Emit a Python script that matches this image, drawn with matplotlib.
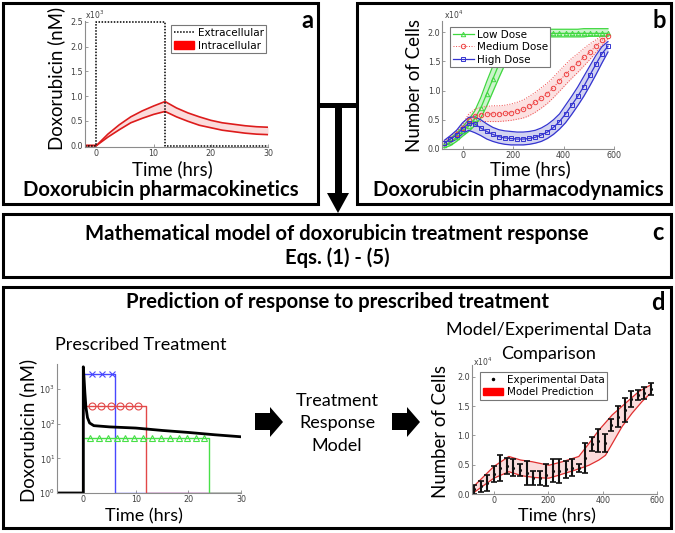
import numpy as np
import matplotlib
matplotlib.use('Agg')
import matplotlib.pyplot as plt
from matplotlib.patches import Rectangle, Polygon, Patch
from matplotlib.lines import Line2D
from matplotlib.ticker import NullLocator

W, H = 675, 533
BIG = 'Lato'

# panel a - pharmacokinetics (x10^3 nM)
pk_time = [-2, 0, 2, 4, 6, 8, 10, 12, 14, 16, 18, 20, 22, 24, 26, 28, 30]
intra_hi = [0, 0, 0.23, 0.42, 0.58, 0.70, 0.80, 0.89, 0.76, 0.66, 0.58, 0.51, 0.46, 0.43, 0.40, 0.38, 0.37]
intra_lo = [0, 0, 0.17, 0.32, 0.46, 0.55, 0.63, 0.69, 0.58, 0.49, 0.41, 0.36, 0.31, 0.28, 0.25, 0.23, 0.22]
extra_time = [-2, 0, 0, 12, 12, 30]
extra_conc = [0, 0, 2.5, 2.5, 0, 0]

# panel b - pharmacodynamics (x10^4 cells)
pd_time = [-72, -48, -24, 0, 24, 48, 72, 96, 120, 144, 168, 192, 216, 240,
           264, 288, 312, 336, 360, 384, 408, 432, 456, 480, 504, 528, 552, 576]
low_mid = [0.06, 0.12, 0.20, 0.30, 0.40, 0.52, 0.70, 0.95, 1.20, 1.45, 1.65, 1.80, 1.90, 1.95,
           1.97, 1.98, 1.98, 1.98, 1.98, 1.98, 1.98, 1.98, 1.98, 1.98, 1.98, 1.98, 1.98, 1.98]
low_lo = [0.02, 0.06, 0.13, 0.22, 0.30, 0.40, 0.53, 0.74, 0.98, 1.22, 1.45, 1.64, 1.79, 1.87,
          1.91, 1.92, 1.92, 1.92, 1.92, 1.92, 1.92, 1.92, 1.92, 1.92, 1.93, 1.93, 1.93, 1.93]
low_hi = [0.10, 0.18, 0.27, 0.38, 0.50, 0.65, 0.88, 1.16, 1.42, 1.66, 1.83, 1.94, 2.00, 2.03,
          2.04, 2.05, 2.05, 2.05, 2.05, 2.05, 2.05, 2.05, 2.05, 2.06, 2.06, 2.06, 2.06, 2.06]
med_mid = [0.10, 0.17, 0.25, 0.36, 0.50, 0.57, 0.59, 0.60, 0.60, 0.60, 0.61, 0.62, 0.65, 0.68,
           0.73, 0.80, 0.87, 0.95, 1.05, 1.17, 1.28, 1.38, 1.47, 1.57, 1.66, 1.76, 1.86, 1.94]
med_lo = [0.07, 0.13, 0.20, 0.30, 0.42, 0.47, 0.47, 0.47, 0.47, 0.47, 0.48, 0.49, 0.51, 0.53,
          0.57, 0.63, 0.70, 0.78, 0.88, 0.99, 1.10, 1.21, 1.31, 1.42, 1.53, 1.65, 1.77, 1.89]
med_hi = [0.13, 0.21, 0.30, 0.42, 0.60, 0.68, 0.71, 0.73, 0.74, 0.74, 0.75, 0.77, 0.80, 0.84,
          0.90, 0.97, 1.05, 1.13, 1.23, 1.34, 1.45, 1.55, 1.63, 1.72, 1.80, 1.87, 1.93, 1.98]
high_mid = [0.10, 0.17, 0.24, 0.35, 0.44, 0.43, 0.36, 0.30, 0.25, 0.21, 0.19, 0.18, 0.17, 0.17,
            0.18, 0.20, 0.24, 0.29, 0.37, 0.47, 0.60, 0.75, 0.90, 1.07, 1.26, 1.45, 1.63, 1.76]
high_lo = [0.05, 0.11, 0.17, 0.26, 0.32, 0.28, 0.23, 0.17, 0.13, 0.10, 0.08, 0.07, 0.07, 0.07,
           0.08, 0.10, 0.13, 0.18, 0.25, 0.34, 0.45, 0.59, 0.74, 0.90, 1.08, 1.27, 1.47, 1.66]
high_hi = [0.15, 0.23, 0.32, 0.45, 0.54, 0.55, 0.50, 0.43, 0.37, 0.33, 0.31, 0.30, 0.29, 0.29,
           0.30, 0.32, 0.36, 0.42, 0.50, 0.60, 0.75, 0.90, 1.06, 1.24, 1.42, 1.60, 1.75, 1.84]

# panel d left - prescribed treatment (nM)
high_t = [-5, 0, 0, 6, 6, 30]
high_c = [1, 1, 2700, 2700, 1, 1]
med_t = [-5, 0, 0, 12, 12, 30]
med_c = [1, 1, 325, 325, 1, 1]
low_t = [-5, 0, 0, 24, 24, 30]
low_c = [1, 1, 40, 40, 1, 1]
high_mk = [1.6, 3.5, 5.4]
med_mk = [1.6, 3.4, 5.2, 7.0, 8.7, 10.5]
low_mk = [1.3, 3.0, 4.7, 6.4, 8.0, 9.7, 11.4, 13.1, 14.8, 16.5, 18.2, 19.8, 21.5, 23.0]
pres_t = [-5, 0, 0, 0.15, 0.3, 0.5, 0.8, 1.2, 2, 5, 10, 15, 20, 25, 30]
pres_c = [1, 1, 4400, 2000, 800, 300, 150, 105, 88, 81, 75, 64, 56, 48, 42]

# panel d right - model vs experiment (x10^4 cells)
exp_mean = [0.08, 0.13, 0.19, 0.34, 0.44, 0.48, 0.45, 0.41, 0.36, 0.28, 0.28, 0.33, 0.40, 0.39,
            0.42, 0.45, 0.44, 0.61, 0.86, 0.91, 0.87, 1.18, 1.32, 1.43, 1.62, 1.69, 1.72, 1.79]
exp_err = [0.08, 0.10, 0.14, 0.14, 0.22, 0.14, 0.14, 0.10, 0.20, 0.12, 0.12, 0.19, 0.20, 0.20,
           0.14, 0.14, 0.07, 0.26, 0.12, 0.20, 0.16, 0.10, 0.18, 0.20, 0.14, 0.09, 0.10, 0.10]
mdl_hi_t = [-72, 0, 55, 98, 141, 202, 251, 312, 349, 386, 435, 484, 533, 576]
mdl_hi = [0.14, 0.47, 0.64, 0.58, 0.55, 0.49, 0.55, 0.64, 0.86, 1.09, 1.35, 1.55, 1.75, 1.86]
mdl_lo_t = [-72, 0, 55, 104, 153, 202, 238, 300, 349, 386, 410, 435, 471, 508, 545, 576]
mdl_lo = [0.03, 0.27, 0.38, 0.31, 0.28, 0.27, 0.32, 0.41, 0.49, 0.58, 0.66, 0.86, 1.15, 1.38, 1.58, 1.72]

GREEN = '#3fd83f'
RED = '#ee4444'
BLUE = '#3434d0'
AXC = '#8c8c8c'

fig = plt.figure(figsize=(6.75, 5.33), dpi=100)

# overlay in pixel coordinates for boxes, arrows, titles
ov = fig.add_axes([0, 0, 1, 1])
ov.set_xlim(0, W)
ov.set_ylim(H, 0)
ov.axis('off')

for (x0, y0, x1, y1) in [(3, 3, 318, 204), (357, 3, 671, 204), (3, 214, 671, 277), (3, 287, 671, 528)]:
    ov.add_patch(Rectangle((x0, y0), x1 - x0, y1 - y0, fill=False, ec='k', lw=2.2))

ov.add_patch(Rectangle((318, 103), 39, 5, fc='k', ec='none'))
ov.add_patch(Rectangle((335, 103), 7, 92, fc='k', ec='none'))
ov.add_patch(Polygon([(327, 193), (349, 193), (338, 213)], fc='k', ec='none'))
for x0 in [255, 392]:
    ov.add_patch(Polygon([(x0, 413), (x0 + 15, 413), (x0 + 15, 407), (x0 + 28, 422),
                          (x0 + 15, 437), (x0 + 15, 430), (x0, 430)], fc='k', ec='none'))

def txt(x, y, s, size, bold=False, **kw):
    kw.setdefault('ha', 'center')
    kw.setdefault('va', 'baseline')
    ov.text(x, y, s, fontsize=size, family=BIG, fontweight='bold' if bold else 'normal', **kw)

TB = 14.6
txt(161, 196.5, 'Doxorubicin pharmacokinetics', TB, True)
txt(518, 196.5, 'Doxorubicin pharmacodynamics', TB, True)
txt(337, 240, 'Mathematical model of doxorubicin treatment response', TB, True)
txt(337, 264, 'Eqs. (1) - (5)', TB, True)
txt(337, 308, 'Prediction of response to prescribed treatment', TB, True)
txt(307, 28.5, 'a', 17, True)
txt(659, 28.5, 'b', 17, True)
txt(658, 240, 'c', 17, True)
txt(658, 310, 'd', 17, True)

TR = 13
txt(141, 350, 'Prescribed Treatment', TR)
txt(549, 335, 'Model/Experimental Data', TR)
txt(549, 359, 'Comparison', TR)
txt(337, 406, 'Treatment', TR)
txt(337, 428, 'Response', TR)
txt(337, 451, 'Model', TR)

TA = 13.4
txt(172, 175, 'Time (hrs)', TA)
txt(530, 175, 'Time (hrs)', TA)
txt(144, 521, 'Time (hrs)', 13)
txt(557, 521, 'Time (hrs)', 13)
txt(56, 78, 'Doxorubicin (nM)', TA, rotation=90, va='center')
txt(415, 85, 'Number of Cells', TA, rotation=90, va='center')
txt(28, 430, 'Doxorubicin (nM)', TA, rotation=90, va='center')
txt(440, 432, 'Number of Cells', TA, rotation=90, va='center')

ov.text(85, 15, r'x10$^3$', fontsize=5.5, color='#404040', va='center')
ov.text(444, 15, r'x10$^4$', fontsize=5.5, color='#404040', va='center')
ov.text(473, 362, r'x10$^4$', fontsize=5.5, color='#404040', va='center')


def add_ax(l, t, r, b):
    ax = fig.add_axes([l / W, 1 - b / H, (r - l) / W, (b - t) / H])
    ax.set_facecolor('none')
    for s in ['top', 'right']:
        ax.spines[s].set_visible(False)
    for s in ['left', 'bottom']:
        ax.spines[s].set_color(AXC)
        ax.spines[s].set_linewidth(0.8)
    ax.tick_params(direction='in', length=2.5, width=0.6, color=AXC,
                   labelcolor='#404040', labelsize=5.8, pad=1.5)
    return ax


def legend(ax, handles, labels, anchor, loc):
    lg = ax.legend(handles, labels, loc=loc, bbox_to_anchor=anchor, borderaxespad=0,
                   fontsize=7.5, fancybox=False, framealpha=1, borderpad=0.25,
                   handletextpad=0.3, labelspacing=0.25, handlelength=2.0)
    lg.get_frame().set_edgecolor('#777777')
    lg.get_frame().set_linewidth(0.8)


# panel a
ax = add_ax(85, 21, 268, 146.5)
ax.fill_between(pk_time, intra_lo, intra_hi, color='#fbdcdc', lw=0)
ax.plot(pk_time, intra_hi, color='#dd1c1c', lw=1.2)
ax.plot(pk_time, intra_lo, color='#dd1c1c', lw=1.2)
ax.plot(extra_time, extra_conc, color='k', lw=1.1, ls=(0, (1, 1)))
ax.set_xlim(-2, 30)
ax.set_ylim(-0.02, 2.52)
ax.set_xticks([0, 10, 20, 30])
ax.set_yticks([0, 0.5, 1.0, 1.5, 2.0, 2.5])
ax.set_yticklabels(['0.0', '0.5', '1.0', '1.5', '2.0', '2.5'])
legend(ax, [Line2D([], [], color='k', lw=1.1, ls=(0, (1, 1))), Patch(color='#ff0000')],
       ['Extracellular', 'Intracellular'], (0.99, 0.965), 'upper right')

# panel b
ax = add_ax(442.4, 20.5, 614, 149)
ax.fill_between(pd_time, low_lo, low_hi, color='#cbf4cb', lw=0)
ax.fill_between(pd_time, med_lo, med_hi, color='#fcdede', lw=0, alpha=0.9)
ax.fill_between(pd_time, high_lo, high_hi, color='#cdcff0', lw=0, alpha=0.9)
ax.plot(pd_time, low_lo, color=GREEN, lw=0.9)
ax.plot(pd_time, low_hi, color=GREEN, lw=0.9)
ax.plot(pd_time, med_lo, color=RED, lw=0.7, ls=':')
ax.plot(pd_time, med_hi, color=RED, lw=0.7, ls=':')
ax.plot(pd_time, high_lo, color=BLUE, lw=0.9)
ax.plot(pd_time, high_hi, color=BLUE, lw=0.9)
h1, = ax.plot(pd_time, low_mid, color=GREEN, lw=0.9, marker='^', ms=3.2, mfc='none', mew=0.7)
h2, = ax.plot(pd_time, med_mid, color=RED, lw=0.7, ls=':', marker='o', ms=3.2, mfc='none', mew=0.7)
h3, = ax.plot(pd_time, high_mid, color=BLUE, lw=0.9, marker='s', ms=2.6, mfc='none', mew=0.7)
ax.set_xlim(-80, 600)
ax.set_ylim(0, 2.2)
ax.set_xticks([0, 200, 400, 600])
ax.set_yticks([0, 0.5, 1.0, 1.5, 2.0])
ax.set_yticklabels(['0.0', '0.5', '1.0', '1.5', '2.0'])
legend(ax, [h1, h2, h3], ['Low Dose', 'Medium Dose', 'High Dose'], (0.045, 0.95), 'upper left')

# panel d left
ax = add_ax(57, 364, 241, 493)
ax.plot(high_t, high_c, color='#4848ff', lw=1.0)
ax.plot(high_mk, [high_c[2]] * len(high_mk), 'x', color='#4848ff', ms=4, mew=0.8)
ax.plot(med_t, med_c, color='#e24848', lw=1.0)
ax.plot(med_mk, [med_c[2]] * len(med_mk), 'o', color='#e24848', ms=5, mfc='none', mew=0.8)
ax.plot(low_t, low_c, color='#48e048', lw=1.0)
ax.plot(low_mk, [low_c[2]] * len(low_mk), '^', color='#48e048', ms=5, mfc='none', mew=0.8)
ax.plot(pres_t, pres_c, color='k', lw=2.0)
ax.set_yscale('log')
ax.set_xlim(-5, 30)
ax.set_ylim(1, 5300)
ax.set_xticks([0, 10, 20, 30])
ax.set_yticks([1, 10, 100, 1000])
ax.yaxis.set_minor_locator(NullLocator())

# panel d right
ax = add_ax(472.1, 365, 657.2, 494)
ax.fill(list(mdl_hi_t) + mdl_lo_t[::-1], list(mdl_hi) + mdl_lo[::-1], color='#fbdcdc', lw=0)
ax.plot(mdl_hi_t, mdl_hi, color='#e03030', lw=0.9)
ax.plot(mdl_lo_t, mdl_lo, color='#e03030', lw=0.9)
ax.errorbar(pd_time, exp_mean, yerr=exp_err, fmt='.', color='#111111', ms=2.5,
            elinewidth=1.5, capsize=2.2, capthick=1.2)
ax.set_xlim(-80, 600)
ax.set_ylim(0, 2.2)
ax.set_xticks([0, 200, 400, 600])
ax.set_yticks([0, 0.5, 1.0, 1.5, 2.0])
ax.set_yticklabels(['0.0', '0.5', '1.0', '1.5', '2.0'])
legend(ax, [Line2D([], [], color='k', ls='none', marker='.', ms=3), Patch(color='#ff0000')],
       ['Experimental Data', 'Model Prediction'], (0.043, 0.946), 'upper left')

fig.savefig('out.png', dpi=100)
